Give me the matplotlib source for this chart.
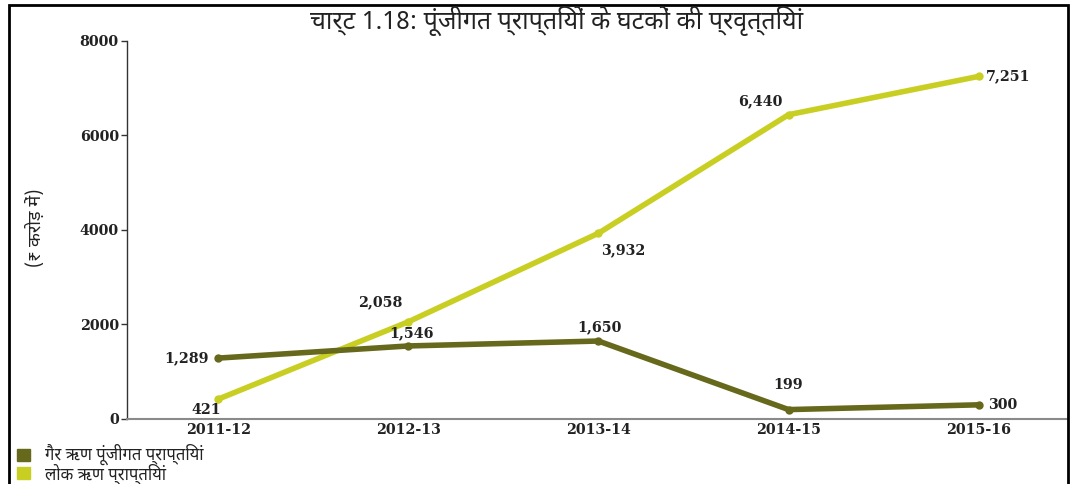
import matplotlib
matplotlib.use('Agg')
import matplotlib.pyplot as plt
from matplotlib.patches import Rectangle

# पूंजीगत प्राप्तियाँ (₹ करोड़ में)
years = ['2011-12', '2012-13', '2013-14', '2014-15', '2015-16']
non_debt = [1289, 1546, 1650, 199, 300]
public_debt = [421, 2058, 3932, 6440, 7251]
yticks = [0, 2000, 4000, 6000, 8000]

title = 'चार्ट 1.18: पूंजीगत प्राप्तियों के घटकों की प्रवृत्तियां'
ylabel = '(₹ करोड़ में)'
name_nd = 'गैर ऋण पूंजीगत प्राप्तियां'
name_pd = 'लोक ऋण प्राप्तियां'

c_dark = '#66691c'
c_light = '#c8cf22'
hindi = ['Noto Sans Devanagari', 'Mukta', 'Hind', 'DejaVu Sans']
num_font = dict(family='DejaVu Serif', fontweight='bold', fontsize=10.3, color='#222222')

# label offsets (points) for each value
off_nd = [(-23, 0), (2, 9), (1, 10), (0, 18), (17, 0)]
off_pd = [(-9, -8), (-20, 14), (18, -12), (-20, 10), (21, 0)]

fig = plt.figure(figsize=(10.77, 4.84), dpi=100)
ax = fig.add_axes([0.118, 0.1343, 0.8736, 0.781])

x = range(len(years))
ax.plot(x, public_debt, color=c_light, lw=4, marker='o', ms=5,
        solid_capstyle='round', zorder=3)
ax.plot(x, non_debt, color=c_dark, lw=4, marker='o', ms=5,
        solid_capstyle='round', zorder=4)

for i in x:
    ax.annotate(f'{non_debt[i]:,}', (i, non_debt[i]), xytext=off_nd[i],
                textcoords='offset points', ha='center', va='center', **num_font)
    ax.annotate(f'{public_debt[i]:,}', (i, public_debt[i]), xytext=off_pd[i],
                textcoords='offset points', ha='center', va='center', **num_font)

ax.set_xlim(-0.48, 4.47)
ax.set_ylim(0, 8000)
ax.set_xticks(list(x))
ax.set_xticklabels(years, **num_font)
ax.set_yticks(yticks)
ax.set_yticklabels([str(v) for v in yticks], **num_font)
ax.tick_params(axis='x', length=0, pad=3)
ax.tick_params(axis='y', length=4, width=1, color='#333333', pad=2)

for s in ['top', 'right']:
    ax.spines[s].set_visible(False)
ax.spines['left'].set_color('#333333')
ax.spines['left'].set_linewidth(1)
ax.spines['bottom'].set_color('#8a8a8a')
ax.spines['bottom'].set_linewidth(1.5)

fig.text(0.517, 0.957, title, ha='center', va='center', fontsize=18,
         family=hindi, color='#222222')
fig.text(0.033, 0.53, ylabel, ha='center', va='center', rotation=90,
         fontsize=13, family=hindi, color='#222222')

# legend squares at bottom left
fig.patches.append(Rectangle((0.016, 0.048), 0.012, 0.025, transform=fig.transFigure,
                             color=c_dark))
fig.patches.append(Rectangle((0.016, 0.010), 0.012, 0.025, transform=fig.transFigure,
                             color=c_light))
fig.text(0.042, 0.062, name_nd, ha='left', va='center', fontsize=12, family=hindi,
         color='#222222')
fig.text(0.042, 0.022, name_pd, ha='left', va='center', fontsize=12, family=hindi,
         color='#222222')

# outer frame
fig.patches.append(Rectangle((0.0085, -0.05), 0.9835, 1.04, transform=fig.transFigure,
                             fill=False, ec='black', lw=2))

fig.savefig('out.png')
